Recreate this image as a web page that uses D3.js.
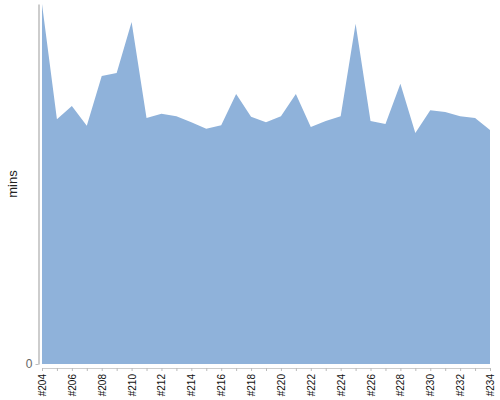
<!DOCTYPE html>
<html>
<head>
<meta charset="utf-8">
<script src="https://cdn.jsdelivr.net/npm/d3@7"></script>
<style>
    body { margin: 0; background: #fff; }
    svg { display: block; font-family: "Liberation Sans", Arial, sans-serif; }
</style>
</head>
<body>
<div id="chart"></div>
<script>
// Build numbers and their durations (mins)
const builds = d3.range(204, 235).map(n => `#${n}`);
const durations = [
    60, 40.8, 43, 39.7, 48, 48.5, 57, 41, 41.7, 41.3,
    40.3, 39.2, 39.8, 45, 41.2, 40.3, 41.3, 45, 39.5, 40.5,
    41.3, 56.7, 40.5, 40, 46.7, 38.5, 42.3, 42, 41.3, 41,
    39
];
const yTicks = [0];

const width = 500;
const height = 400;
const margin = { top: 4, right: 10, bottom: 36, left: 42 };

const svg = d3.select('#chart').append('svg')
    .attr('width', width)
    .attr('height', height);

const x = d3.scalePoint()
    .domain(builds)
    .range([margin.left, width - margin.right]);

const y = d3.scaleLinear()
    .domain([0, 60])
    .range([height - margin.bottom, margin.top]);

const data = builds.map((b, i) => ({ build: b, value: durations[i] }));

// Area
const area = d3.area()
    .x(d => x(d.build))
    .y0(y(0))
    .y1(d => y(d.value));

svg.append('path')
    .datum(data)
    .attr('fill', '#8fb2da')
    .attr('d', area);

// Y axis
const yAxis = svg.append('g')
    .attr('transform', `translate(${margin.left - 3.5}, 0)`)
    .call(d3.axisLeft(y).tickValues(yTicks).tickSize(3).tickSizeOuter(0));
yAxis.select('.domain')
    .attr('stroke', '#bdbdbd')
    .attr('stroke-width', 1.5);
yAxis.selectAll('.tick line').attr('stroke', '#bdbdbd');
yAxis.selectAll('.tick text')
    .attr('fill', '#666')
    .attr('font-size', '12px')
    .attr('x', -6);

svg.append('text')
    .attr('transform', `translate(17, ${(margin.top + height - margin.bottom) / 2}) rotate(-90)`)
    .attr('text-anchor', 'middle')
    .attr('fill', '#222')
    .attr('font-size', '13px')
    .text('mins');

// X axis
const xAxis = svg.append('g')
    .attr('transform', `translate(0, ${height - margin.bottom + 4})`)
    .call(d3.axisBottom(x).tickSize(3).tickSizeOuter(0)
        .tickFormat((d, i) => i % 2 === 0 ? d : ''));
xAxis.select('.domain').attr('stroke', '#ccc');
xAxis.selectAll('.tick line').attr('stroke', '#bbb');
xAxis.selectAll('.tick text')
    .attr('fill', '#111')
    .attr('font-size', '10px')
    .attr('text-anchor', 'end')
    .attr('transform', 'rotate(-90)')
    .attr('x', -6)
    .attr('y', 0)
    .attr('dy', '0.35em');
</script>
</body>
</html>
